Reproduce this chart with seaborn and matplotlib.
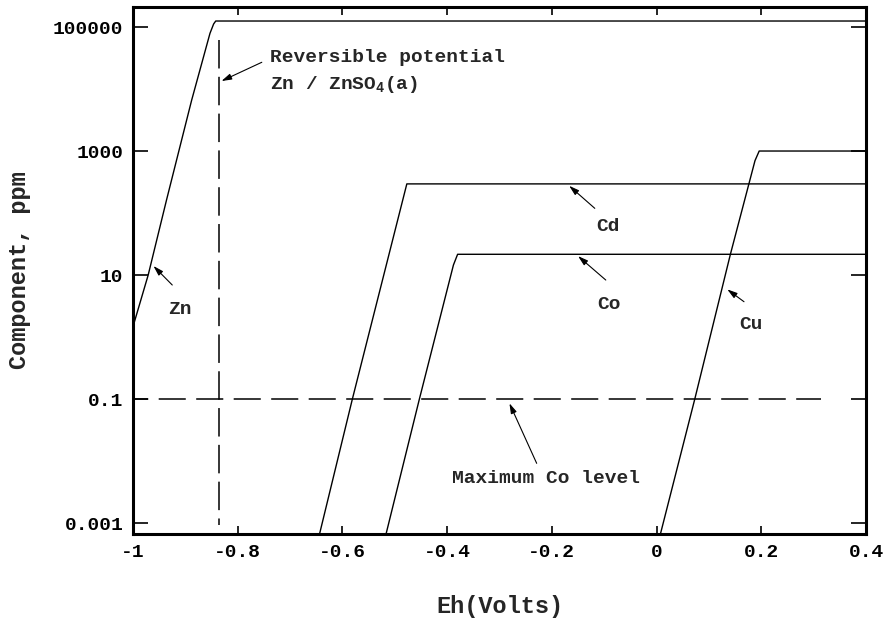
import numpy as np
import pandas as pd
import matplotlib
matplotlib.use("Agg")
import matplotlib.pyplot as plt
import seaborn as sns

# ---- data ----
zn_x = [-1.0, -0.971, -0.936, -0.888, -0.853, -0.846, -0.842, 0.4]
zn_y = [1.47, 10, 162, 6600, 79000, 112000, 125000, 125000]

cd_x = [-0.645, -0.581, -0.477, 0.4]
cd_y = [0.00060, 0.1, 295, 295]

co_x = [-0.518, -0.453, -0.388, -0.380, 0.4]
co_y = [0.00060, 0.1, 14.5, 21.6, 21.6]

cu_x = [0.006, 0.073, 0.141, 0.188, 0.196, 0.4]
cu_y = [0.00060, 0.1, 21.6, 700, 1000, 1000]

rev_x = [-0.836, -0.836]          # reversible potential Zn/ZnSO4
rev_y = [61000, 0.00093]
maxco_x = [-1.0, 0.315]           # maximum Co level
maxco_y = [0.1, 0.1]

xticks = [-1.0, -0.8, -0.6, -0.4, -0.2, 0.0, 0.2, 0.4]
xticklabels = ["-1", "-0.8", "-0.6", "-0.4", "-0.2", "0", "0.2", "0.4"]
yticks = [0.001, 0.1, 10, 1000, 100000]
yticklabels = ["0.001", "0.1", "10", "1000", "100000"]

sns.set_theme(style="ticks")
plt.rcParams["font.family"] = ["Liberation Mono", "DejaVu Sans Mono"]
plt.rcParams["font.weight"] = "bold"
plt.rcParams["mathtext.fontset"] = "custom"
plt.rcParams["mathtext.rm"] = "Liberation Mono:bold"
plt.rcParams["mathtext.it"] = "Liberation Mono:bold"
plt.rcParams["mathtext.bf"] = "Liberation Mono:bold"
plt.rcParams["mathtext.default"] = "rm"
plt.rcParams["lines.scale_dashes"] = False

fig = plt.figure(figsize=(8.83, 6.21), dpi=100)
fig.patch.set_facecolor("white")
W, H = 883, 621
L, R, T, B = 133, 866, 7, 534
ax = fig.add_axes([L / W, 1 - B / H, (R - L) / W, (B - T) / H])
ax.set_facecolor("white")

lw = 1.0
for xs, ys in [(zn_x, zn_y), (cd_x, cd_y), (co_x, co_y), (cu_x, cu_y)]:
    sns.lineplot(x=xs, y=ys, ax=ax, color="black", lw=lw, sort=False,
                 estimator=None)

sns.lineplot(x=rev_x, y=rev_y, ax=ax, color="black", lw=1.1, sort=False,
             estimator=None, linestyle=(0, (20.5, 6.0)))
sns.lineplot(x=maxco_x, y=maxco_y, ax=ax, color="black", lw=1.1, sort=False,
             estimator=None, linestyle=(8.5, (19.5, 7.5)))

ax.set_yscale("log")
ax.set_xlim(-1.0, 0.4)
ax.set_ylim(10 ** -3.177, 10 ** 5.323)
ax.set_xticks(xticks)
ax.set_xticklabels(xticklabels)
ax.set_yticks(yticks)
ax.set_yticklabels(yticklabels)
ax.yaxis.set_minor_locator(matplotlib.ticker.NullLocator())
ax.xaxis.set_minor_locator(matplotlib.ticker.NullLocator())

for s in ax.spines.values():
    s.set_visible(True)
    s.set_linewidth(2.2)
    s.set_color("black")

ax.tick_params(axis="x", which="major", direction="in", length=6, width=1.2,
               top=True, bottom=True, pad=7, labelsize=14, colors="black")
ax.tick_params(axis="y", which="major", direction="in", length=11, width=1.2,
               left=True, right=True, pad=7, labelsize=14, colors="black")
for lab in ax.get_xticklabels() + ax.get_yticklabels():
    lab.set_fontweight("bold")

ax.set_xlabel("Eh(Volts)", fontsize=17, fontweight="bold")
ax.set_ylabel("Component, ppm", fontsize=17, fontweight="bold")
ax.xaxis.set_label_coords(0.5, -(607 - B) / (B - T))
ax.xaxis.label.set_va("center")
ax.yaxis.set_label_coords((20 - L) / (R - L), 0.5)
ax.yaxis.label.set_va("center")

tfs = 14
arrowprops = dict(arrowstyle="-|>,head_length=0.5,head_width=0.15",
                  color="black", lw=0.8, shrinkA=0, shrinkB=0)

ax.text(-0.738, 35300, "Reversible potential", fontsize=tfs,
        fontweight="bold", ha="left", va="center_baseline")
ax.text(-0.738, 13100, "Zn / ZnSO$_4$(a)", fontsize=tfs,
        fontweight="bold", ha="left", va="center_baseline")
ax.annotate("", xy=(-0.831, 13450), xytext=(-0.754, 27000),
            arrowprops=arrowprops)

labels = [
    ("Zn", (-0.910, 2.94), (-0.925, 6.9), (-0.961, 14.0)),
    ("Cd", (-0.093, 66.5), (-0.118, 119), (-0.167, 275)),
    ("Co", (-0.091, 3.57), (-0.097, 8.3), (-0.150, 20.2)),
    ("Cu", (0.180, 1.70), (0.167, 3.71), (0.135, 5.87)),
    ("Maximum Co level", (-0.211, 0.00558), (-0.229, 0.00918), (-0.281, 0.0853)),
]
for txt, tpos, astart, aend in labels:
    ax.text(tpos[0], tpos[1], txt, fontsize=tfs, fontweight="bold",
            ha="center", va="center_baseline")
    ax.annotate("", xy=aend, xytext=astart, arrowprops=arrowprops)

fig.savefig("out.png", dpi=100, facecolor="white")
